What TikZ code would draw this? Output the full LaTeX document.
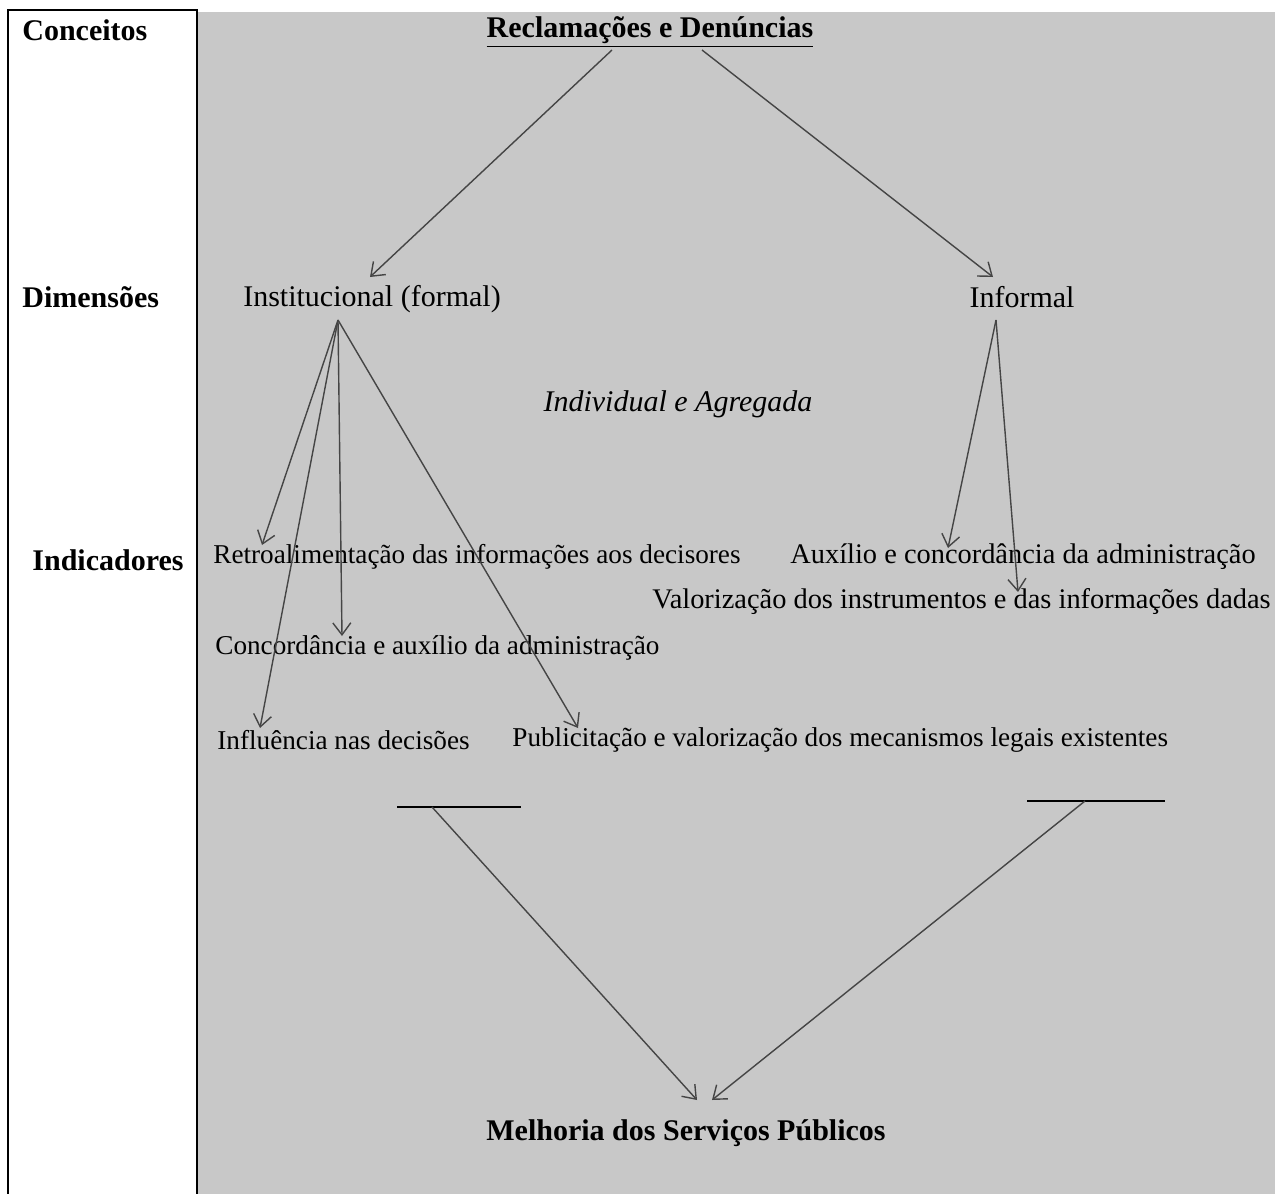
\documentclass[tikz,border=0pt]{standalone}
\usepackage{fontspec}
\setmainfont{Liberation Serif}
\usetikzlibrary{arrows.meta}

\definecolor{fundo}{HTML}{C8C8C8}
\definecolor{setacor}{HTML}{454545}

\begin{document}
\begin{tikzpicture}[x=0.5pt,y=-0.5pt,
    titulo/.style={font=\fontsize{15}{18}\selectfont\bfseries,inner sep=0pt},
    dimensao/.style={font=\fontsize{15}{18}\selectfont,inner sep=0pt},
    indicador/.style={font=\fontsize{13.6}{16}\selectfont,inner sep=0pt,anchor=west},
    indicadorlargo/.style={indicador,font=\fontsize{14.2}{17}\selectfont},
    seta/.style={draw=setacor,line width=0.7pt,-{Straight Barb[length=6pt,width=9pt]}}]
    \useasboundingbox (0,0) rectangle (1275,1194);
    \fill[white] (0,0) rectangle (1275,1194);
    \fill[fundo] (198,12) rectangle (1275,1194);
    \draw[line width=1pt] (8,1194) -- (8,10) -- (197,10) -- (197,1194);

    % coluna da esquerda
    \node[titulo,anchor=west] (conc) at (22,30) {Conceitos};
    \node[titulo,anchor=west] (dims) at (22,297) {Dimensões};
    \node[titulo,anchor=west] (indic) at (32,560) {Indicadores};

    % conceito e dimensoes
    \node[titulo] (recl) at (650,32) {\underline{Reclamações e Denúncias}};
    \node[dimensao] (inst) at (372,299) {Institucional (formal)};
    \node[dimensao] (infor) at (1022,297) {Informal};
    \node[dimensao,font=\fontsize{15}{18}\selectfont\itshape] (indag) at (678,404) {Individual e Agregada};

    % indicadores
    \node[indicador] (retro) at (213,557) {Retroalimentação das informações aos decisores};
    \node[indicadorlargo] (auxil) at (790,557) {Auxílio e concordância da administração};
    \node[indicadorlargo] (valor) at (652,602) {Valorização dos instrumentos e das informações dadas};
    \node[indicador] (conco) at (215,648) {Concordância e auxílio da administração};
    \node[indicador] (influ) at (217,740) {Influência nas decisões};
    \node[indicador] (publi) at (512,740) {Publicitação e valorização dos mecanismos legais existentes};
    \node[titulo] (melh) at (686,1133) {Melhoria dos Serviços Públicos};

    % pontos das setas
    \coordinate (recl-e) at (612,50);
    \coordinate (recl-d) at (702,50);
    \coordinate (inst-t) at (370,277);
    \coordinate (infor-t) at (993,277);
    \coordinate (inst-b) at (338,320);
    \coordinate (infor-b) at (996,320);
    \coordinate (retro-t) at (262,545);
    \coordinate (conco-t) at (342,636);
    \coordinate (influ-t) at (260,728);
    \coordinate (publi-t) at (578,728);
    \coordinate (auxil-t) at (948,548);
    \coordinate (valor-t) at (1018,592);
    \coordinate (barra1a) at (397,807);
    \coordinate (barra1b) at (521,807);
    \coordinate (barra1m) at (432,807);
    \coordinate (barra2a) at (1027,801);
    \coordinate (barra2b) at (1165,801);
    \coordinate (barra2m) at (1085,801);
    \coordinate (melh-e) at (697,1100);
    \coordinate (melh-d) at (712,1100);

    \draw[seta] (recl-e) -- (inst-t);
    \draw[seta] (recl-d) -- (infor-t);

    \draw[seta] (inst-b) -- (retro-t);
    \draw[seta] (inst-b) -- (conco-t);
    \draw[seta] (inst-b) -- (influ-t);
    \draw[seta] (inst-b) -- (publi-t);

    \draw[seta] (infor-b) -- (auxil-t);
    \draw[seta] (infor-b) -- (valor-t);

    \draw[line width=1.2pt] (barra1a) -- (barra1b);
    \draw[line width=1.2pt] (barra2a) -- (barra2b);
    \draw[seta] (barra1m) -- (melh-e);
    \draw[seta] (barra2m) -- (melh-d);
\end{tikzpicture}
\end{document}
